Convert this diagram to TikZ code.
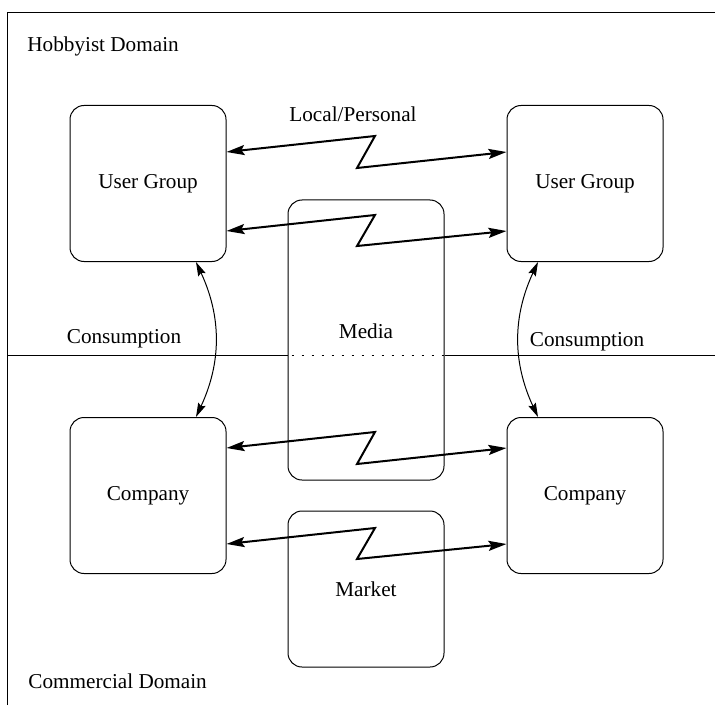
\documentclass[tikz,border=0pt]{standalone}
\usepackage{fontspec}
\setmainfont{Liberation Serif}
\usetikzlibrary{arrows.meta,calc,positioning}

\begin{document}
\begin{tikzpicture}[x=0.5pt,y=-0.5pt,
        font=\fontsize{10.6}{12.7}\selectfont,
        unitbox/.style={draw, line width=0.5pt, rounded corners=7pt, minimum width=78pt, minimum height=78pt, inner sep=0pt},
        tag/.style={inner sep=0pt},
        zigzag/.style={line width=1pt, {Stealth[length=9pt,width=5pt,inset=1.5pt]}-{Stealth[length=9pt,width=5pt,inset=1.5pt]}},
        consume/.style={line width=0.5pt, {Stealth[length=7pt,width=4pt,inset=1pt]}-{Stealth[length=7pt,width=4pt,inset=1pt]}},
        divider/.style={line width=0.5pt}]
            \useasboundingbox (0,0) rectangle (715,705);

            \node[unitbox] (hobbyl) at (148,183.5) {User Group};
            \node[unitbox] (hobbyr) at (585,183.5) {User Group};
            \node[unitbox] (compl) at (148,495.5) {Company};
            \node[unitbox] (compr) at (585,495.5) {Company};
            \node[unitbox, minimum height=140pt, label={[yshift=4.5pt]center:Media}] (media) at (366,340) {};
            \node[unitbox] (market) at (366,589) {Market};

            \draw[divider] (7.5,705) -- (7.5,12.3) -- (715,12.3);
            \draw[divider] (7.5,355) -- (media.west |- 0,355);
            \draw[divider, dash pattern=on 1pt off 4pt, dash phase=-2pt] (media.west |- 0,355) -- (media.east |- 0,355);
            \draw[divider] (media.east |- 0,355) -- (715,355);

            \node[tag, anchor=base west] (hobbyist) at (27,52) {Hobbyist Domain};
            \node[tag, anchor=base west] (commercial) at (28,688) {Commercial Domain};
            \node[tag, anchor=base] (local) at (353,122) {Local/Personal};
            \node[tag, anchor=base] (consl) at (124,343) {Consumption};
            \node[tag, anchor=base] (consr) at (587,346) {Consumption};

            \draw[zigzag] (hobbyl.east |- 0,152) -- (375,136) -- (357,168) -- (hobbyr.west |- 0,152);
            \draw[zigzag] (hobbyl.east |- 0,231) -- (375,215) -- (357,246) -- (hobbyr.west |- 0,231);
            \draw[zigzag] (compl.east |- 0,448) -- (375,432) -- (357,464) -- (compr.west |- 0,448);
            \draw[zigzag] (compl.east |- 0,544) -- (375,528) -- (357,559) -- (compr.west |- 0,544);

            \draw[consume] (hobbyl.south -| 196,0) to[bend left=25] (compl.north -| 196,0);
            \draw[consume] (hobbyr.south -| 538,0) to[bend right=25] (compr.north -| 538,0);
        \end{tikzpicture}
\end{document}
